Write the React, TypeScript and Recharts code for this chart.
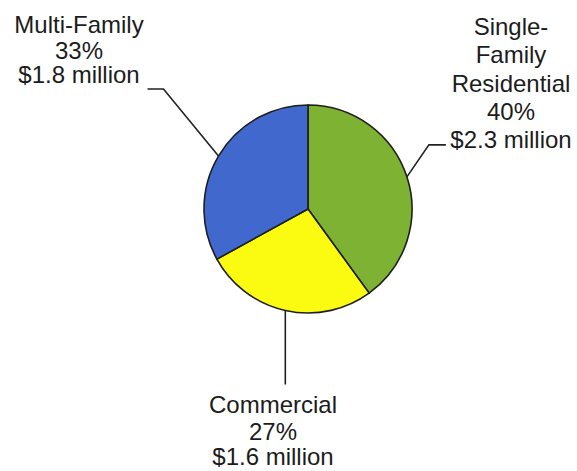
import { Cell, Pie, PieChart } from "recharts";

// slices go clockwise from 12 o'clock
const categories = ["Single-Family Residential", "Commercial", "Multi-Family"];
const shares = [40, 27, 33];
const amounts = ["$2.3 million", "$1.6 million", "$1.8 million"];
const nameLines = [["Single-", "Family", "Residential"], ["Commercial"], ["Multi-Family"]];
const colors = ["#7db232", "#fbfb12", "#4068cd"];

const chartData = categories.map((name, i) => ({
  name,
  value: shares[i],
  amount: amounts[i],
  lines: nameLines[i],
}));

// leader line bends (relative to where the line leaves the pie) and text block placement
const labelLayout = [
  { bends: [[22, -32], [39, -32]], x: 511, baselines: [35, 63, 92, 120, 148] },
  { bends: [[0, 74]], x: 273, baselines: [413, 440, 465] },
  { bends: [[-55, -67], [-71, -67]], x: 79, baselines: [33, 59, 83] },
];

const RAD = Math.PI / 180;

function renderLabel(props: any) {
  const { cx, cy, midAngle, outerRadius, index, payload } = props;
  const sx = cx + outerRadius * Math.cos(-midAngle * RAD);
  const sy = cy + outerRadius * Math.sin(-midAngle * RAD);
  const lay = labelLayout[index];
  const pts = [[sx, sy], ...lay.bends.map(([dx, dy]) => [sx + dx, sy + dy])];
  const item = payload?.payload ?? payload;
  const rows = [...item.lines, `${item.value}%`, item.amount];

  return (
    <g>
      <polyline
        points={pts.map((p) => p.join(",")).join(" ")}
        fill="none"
        stroke="#222"
        strokeWidth={1.6}
      />
      <text
        textAnchor="middle"
        fontFamily="'Liberation Sans', Arial, sans-serif"
        fontSize={24}
        fill="#1c1c1c"
      >
        {rows.map((r: string, i: number) => (
          <tspan key={i} x={lay.x} y={lay.baselines[i]}>
            {r}
          </tspan>
        ))}
      </text>
    </g>
  );
}

export default function App() {
  return (
    <div style={{ position: "absolute", left: 0, top: 0, width: 577, height: 471, background: "#fff" }}>
      <PieChart width={577} height={471} margin={{ top: 0, right: 0, bottom: 0, left: 0 }}>
        <Pie
          data={chartData}
          dataKey="value"
          nameKey="name"
          cx={308}
          cy={209}
          outerRadius={104}
          startAngle={90}
          endAngle={-270}
          stroke="#1e1e1e"
          strokeWidth={1.6}
          label={renderLabel}
          labelLine={false}
          isAnimationActive={false}
        >
          {chartData.map((d, i) => (
            <Cell key={d.name} fill={colors[i]} />
          ))}
        </Pie>
      </PieChart>
    </div>
  );
}
